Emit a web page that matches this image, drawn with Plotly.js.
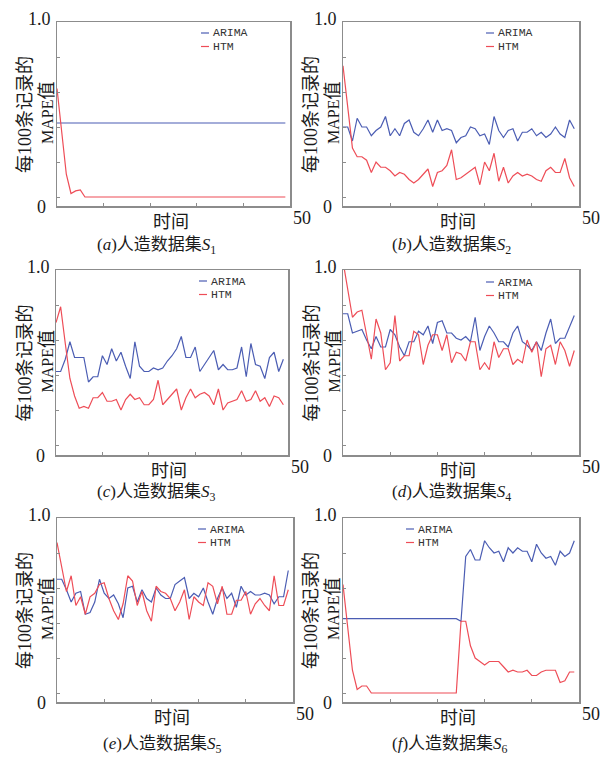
<!DOCTYPE html>
<html><head><meta charset="utf-8">
<script src="https://cdn.plot.ly/plotly-3.0.1.min.js"></script>
<style>html,body{margin:0;padding:0;background:#fff}#chart{width:601px;height:759px}</style>
</head><body><div id="chart"></div>
<script>
// ---- data ----
const timeIdx = [0,1,2,3,4,5,6,7,8,9,10,11,12,13,14,15,16,17,18,19,20,21,22,23,24,25,26,27,28,29,30,31,32,33,34,35,36,37,38,39,40,41,42,43,44,45,46,47,48,49];
const seriesNames = ["ARIMA", "HTM"];
const yTickLabels = ["0", "1.0"];
const xEndLabel = "50";
const xTitle = "时间";
const yTitleLine1 = "每100条记录的";
const yTitleLine2a = "MAPE";
const yTitleLine2b = "值";
const panelLetters = ["a","b","c","d","e","f"];
const panelSubs = ["1","2","3","4","5","6"];

const arimaA = [0.423,0.423,0.423,0.423,0.423,0.423,0.423,0.423,0.423,0.423,0.423,0.423,0.423,0.423,0.423,0.423,0.423,0.423,0.423,0.423,0.423,0.423,0.423,0.423,0.423,0.423,0.423,0.423,0.423,0.423,0.423,0.423,0.423,0.423,0.423,0.423,0.423,0.423,0.423,0.423,0.423,0.423,0.423,0.423,0.423,0.423,0.423,0.423,0.423,0.423];
const htmA = [0.62,0.36,0.13,0.02,0.035,0.04,0,0,0,0,0,0,0,0,0,0,0,0,0,0,0,0,0,0,0,0,0,0,0,0,0,0,0,0,0,0,0,0,0,0,0,0,0,0,0,0,0,0,0,0];

const arimaB = [0.40,0.40,0.32,0.45,0.40,0.40,0.35,0.38,0.40,0.46,0.35,0.39,0.35,0.42,0.44,0.37,0.35,0.39,0.44,0.37,0.44,0.38,0.39,0.38,0.31,0.34,0.35,0.40,0.39,0.35,0.36,0.30,0.46,0.38,0.34,0.38,0.39,0.32,0.37,0.37,0.39,0.35,0.37,0.34,0.36,0.40,0.36,0.34,0.44,0.39];
const htmB = [0.75,0.50,0.28,0.23,0.23,0.21,0.14,0.20,0.17,0.17,0.15,0.12,0.14,0.13,0.10,0.08,0.10,0.13,0.16,0.06,0.14,0.15,0.18,0.27,0.10,0.11,0.13,0.15,0.17,0.07,0.20,0.15,0.25,0.09,0.17,0.08,0.12,0.14,0.12,0.13,0.12,0.10,0.09,0.15,0.17,0.14,0.14,0.22,0.11,0.06];

const arimaC = [0.42,0.42,0.49,0.59,0.50,0.50,0.50,0.36,0.39,0.39,0.51,0.46,0.55,0.48,0.53,0.45,0.38,0.59,0.45,0.42,0.42,0.44,0.43,0.44,0.48,0.51,0.55,0.62,0.50,0.50,0.56,0.42,0.46,0.50,0.54,0.43,0.46,0.43,0.43,0.44,0.56,0.39,0.58,0.46,0.45,0.38,0.50,0.53,0.42,0.49];
const htmC = [0.70,0.79,0.58,0.38,0.28,0.21,0.22,0.21,0.27,0.27,0.30,0.25,0.25,0.26,0.20,0.26,0.29,0.26,0.27,0.23,0.23,0.26,0.37,0.23,0.26,0.29,0.32,0.20,0.27,0.32,0.27,0.29,0.30,0.28,0.23,0.32,0.20,0.24,0.25,0.26,0.31,0.25,0.26,0.31,0.25,0.27,0.22,0.28,0.27,0.23];

const arimaD = [0.75,0.75,0.64,0.65,0.66,0.60,0.55,0.62,0.56,0.56,0.66,0.63,0.56,0.51,0.59,0.59,0.65,0.63,0.68,0.58,0.70,0.71,0.64,0.64,0.61,0.60,0.62,0.59,0.73,0.54,0.62,0.68,0.64,0.59,0.59,0.56,0.64,0.68,0.59,0.57,0.54,0.59,0.54,0.64,0.72,0.58,0.61,0.61,0.67,0.74];
const htmD = [1.05,0.88,0.73,0.76,0.77,0.63,0.49,0.72,0.64,0.43,0.47,0.74,0.48,0.51,0.51,0.65,0.63,0.46,0.57,0.63,0.63,0.54,0.63,0.47,0.53,0.52,0.48,0.59,0.59,0.43,0.47,0.43,0.59,0.50,0.55,0.55,0.46,0.49,0.47,0.60,0.53,0.59,0.39,0.55,0.57,0.46,0.59,0.54,0.45,0.54];

const arimaE = [0.65,0.65,0.59,0.52,0.57,0.58,0.45,0.46,0.52,0.65,0.57,0.54,0.56,0.51,0.43,0.60,0.61,0.52,0.59,0.54,0.52,0.60,0.56,0.54,0.54,0.62,0.64,0.66,0.54,0.57,0.55,0.60,0.52,0.45,0.54,0.60,0.54,0.57,0.49,0.61,0.56,0.58,0.56,0.56,0.57,0.56,0.51,0.55,0.55,0.70];
const htmE = [0.86,0.71,0.58,0.67,0.50,0.55,0.45,0.55,0.57,0.62,0.63,0.54,0.47,0.42,0.51,0.67,0.64,0.50,0.58,0.47,0.41,0.61,0.58,0.57,0.54,0.47,0.52,0.59,0.42,0.55,0.52,0.50,0.63,0.61,0.51,0.61,0.45,0.45,0.53,0.53,0.58,0.45,0.51,0.54,0.50,0.47,0.67,0.50,0.50,0.59];

const arimaF = [0.425,0.425,0.425,0.425,0.425,0.425,0.425,0.425,0.425,0.425,0.425,0.425,0.425,0.425,0.425,0.425,0.425,0.425,0.425,0.425,0.425,0.425,0.425,0.425,0.425,0.41,0.78,0.82,0.76,0.76,0.87,0.83,0.80,0.81,0.75,0.83,0.80,0.83,0.81,0.81,0.75,0.85,0.80,0.77,0.78,0.73,0.81,0.78,0.80,0.87];
const htmF = [0.62,0.37,0.13,0.02,0.04,0.04,0,0,0,0,0,0,0,0,0,0,0,0,0,0,0,0,0,0,0,0.41,0.41,0.27,0.20,0.18,0.16,0.18,0.18,0.18,0.15,0.12,0.13,0.12,0.12,0.13,0.10,0.10,0.12,0.13,0.13,0.13,0.06,0.07,0.12,0.12];

// ---- layout (pixels) ----
const W = 601, H = 759;
const panels = [
  {L:57,  R:290, T:22,  B:206, arima:arimaA, htm:htmA, legX:201, legY:33,  capX:95},
  {L:343, R:579, T:22,  B:206, arima:arimaB, htm:htmB, legX:486, legY:33,  capX:390},
  {L:56,  R:288, T:270, B:455, arima:arimaC, htm:htmC, legX:199, legY:281, capX:95},
  {L:343, R:579, T:270, B:455, arima:arimaD, htm:htmD, legX:486, legY:282, capX:390},
  {L:57,  R:293, T:518, B:702, arima:arimaE, htm:htmE, legX:198, legY:529, capX:101},
  {L:343, R:579, T:518, B:702, arima:arimaF, htm:htmF, legX:406, legY:529, capX:390}
];
const capY = [246, 246, 493, 493, 745, 745];

const BLUE = '#4b5db3', RED = '#ee4d57', FRAME = '#8c8c8c', TXT = '#1a1a1a';
const SERIF = '"Liberation Serif", "Noto Sans CJK SC", serif';
const CJK = '"Noto Sans CJK SC", sans-serif';
const MONO = '"Liberation Mono", "DejaVu Sans Mono", monospace';
const px = p => p / W;
const py = p => 1 - p / H;

const traces = [], annotations = [], shapes = [];
const layout = {
  width: W, height: H, margin: {l:0, r:0, t:0, b:0},
  paper_bgcolor: '#fff', plot_bgcolor: '#fff', showlegend: false
};

panels.forEach((p, i) => {
  const k = i + 1;
  const xa = 'x' + (k === 1 ? '' : k), ya = 'y' + (k === 1 ? '' : k);
  traces.push({x: timeIdx, y: p.arima, type: 'scatter', mode: 'lines', name: seriesNames[0],
               line: {color: BLUE, width: 1.2}, xaxis: xa, yaxis: ya, hoverinfo: 'skip'});
  traces.push({x: timeIdx, y: p.htm, type: 'scatter', mode: 'lines', name: seriesNames[1],
               line: {color: RED, width: 1.2}, xaxis: xa, yaxis: ya, hoverinfo: 'skip'});
  const common = {showline: true, mirror: true, linecolor: FRAME, linewidth: 1.5,
                  ticks: 'inside', ticklen: 3, tickwidth: 1, tickcolor: FRAME,
                  showticklabels: false, showgrid: false, zeroline: false, fixedrange: true};
  layout['xaxis' + (k === 1 ? '' : k)] = Object.assign({}, common, {
    domain: [px(p.L), px(p.R)], anchor: ya, range: [0, 50], tickvals: [10, 20, 30, 40]});
  layout['yaxis' + (k === 1 ? '' : k)] = Object.assign({}, common, {
    domain: [py(p.B), py(p.T)], anchor: xa, range: [1 - (p.B - p.T) / 175, 1],
    tickvals: [0, 0.2, 0.4, 0.6, 0.8]});

  const ann = (o) => annotations.push(Object.assign({xref: 'paper', yref: 'paper', showarrow: false,
                                                     font: {family: SERIF, size: 18, color: TXT}}, o));
  ann({text: yTickLabels[1], x: px(p.L - 4), y: py(p.T - 3), xanchor: 'right', yanchor: 'middle'});
  ann({text: yTickLabels[0], x: px(p.L - 9), y: py(p.B + 1), xanchor: 'right', yanchor: 'middle'});
  ann({text: xEndLabel, x: px(p.R + 1), y: py(p.B + 12), xanchor: 'left', yanchor: 'middle'});
  ann({text: xTitle, x: px((p.L + p.R) / 2 - 3), y: py(p.B + 14), xanchor: 'center', yanchor: 'middle',
       font: {family: CJK, size: 18, color: TXT}});
  ann({text: yTitleLine1, x: px(p.L - 32), y: py((p.T + p.B) / 2 + 1), xanchor: 'center', yanchor: 'middle',
       textangle: -90, font: {family: SERIF, size: 18, color: TXT}});
  ann({text: '<span style="font-size:16px">' + yTitleLine2a + '</span>' + yTitleLine2b,
       x: px(p.L - 10), y: py((p.T + p.B) / 2 - 1),
       xanchor: 'center', yanchor: 'middle', textangle: -90, font: {family: SERIF, size: 18, color: TXT}});
  // legend
  [[BLUE, 0], [RED, 1]].forEach(([c, j]) => {
    const yy = p.legY + j * 13.5;
    shapes.push({type: 'line', xref: 'paper', yref: 'paper', x0: px(p.legX), x1: px(p.legX + 8),
                 y0: py(yy), y1: py(yy), line: {color: c, width: 1.2}});
    ann({text: seriesNames[j], x: px(p.legX + 10), y: py(yy), xanchor: 'left', yanchor: 'middle',
         font: {family: MONO, size: 11.5, color: '#333'}});
  });
  // caption
  ann({text: '(<i>' + panelLetters[i] + '</i>)人造数据集<i>S</i><sub>' + panelSubs[i] + '</sub>',
       x: px(p.capX), y: py(capY[i]), xanchor: 'left', yanchor: 'middle',
       font: {family: SERIF, size: 17, color: TXT}});
});
layout.annotations = annotations;
layout.shapes = shapes;

Plotly.newPlot('chart', traces, layout, {staticPlot: true, displayModeBar: false});
</script>
</body></html>
